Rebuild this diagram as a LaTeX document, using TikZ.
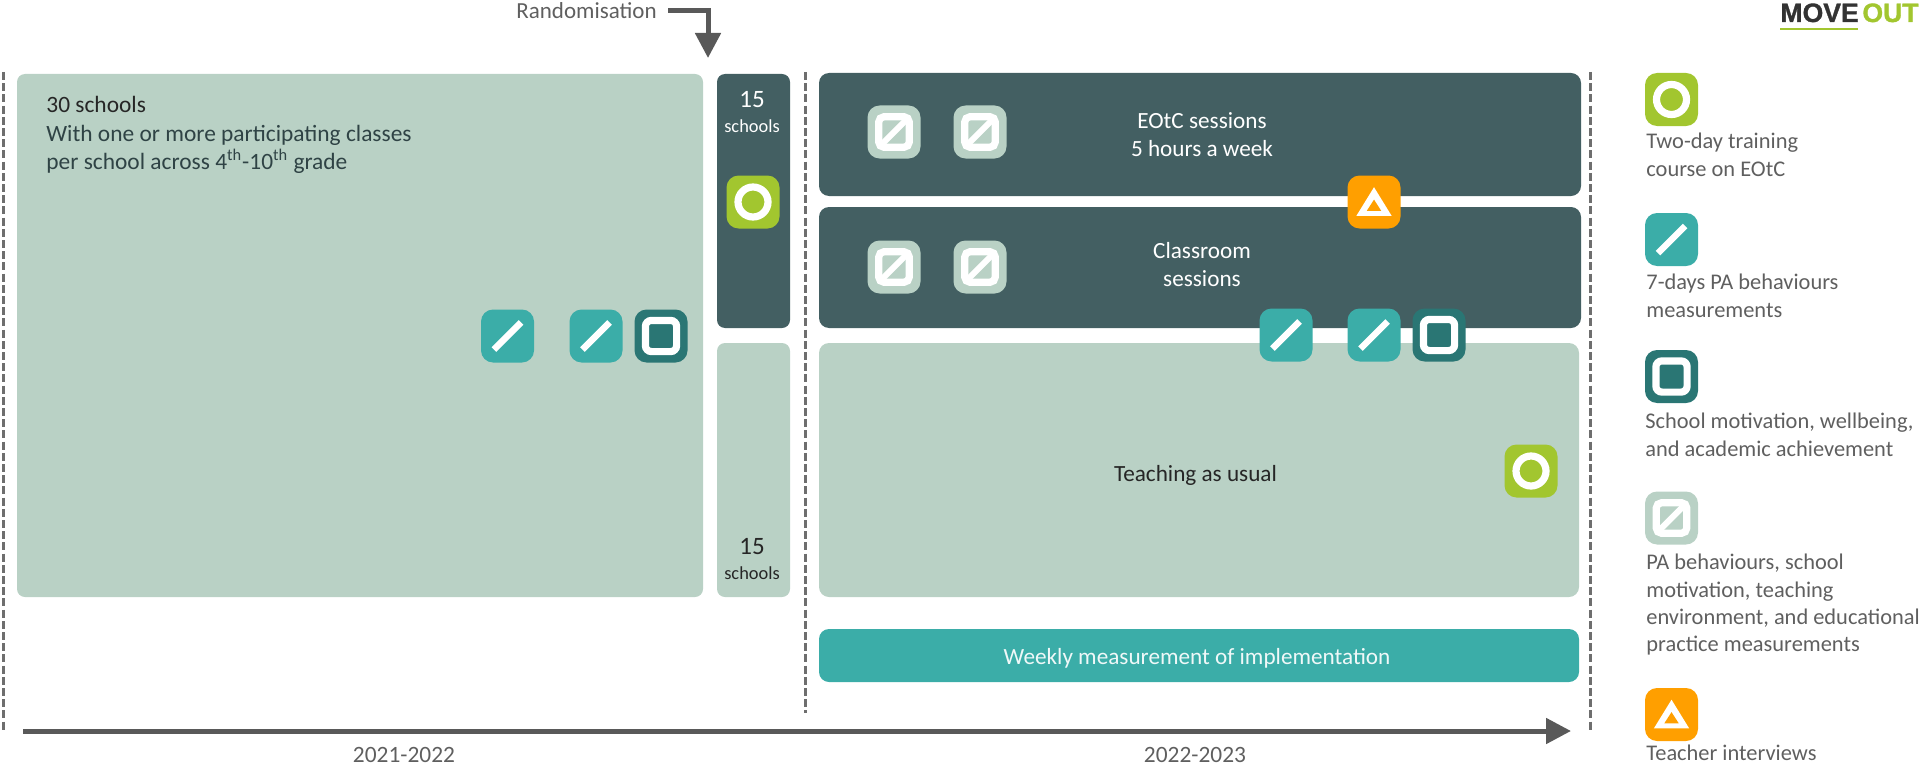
\documentclass[tikz,border=0pt]{standalone}
\usepackage{fontspec}
\usepackage{tikz}
\usetikzlibrary{arrows.meta}
\setmainfont{Carlito}
\newfontfamily\logofont[BoldFeatures={FakeBold=1.2}]{Liberation Sans}

\definecolor{panellight}{HTML}{B9D1C5}
\definecolor{paneldark}{HTML}{435F62}
\definecolor{teal}{HTML}{3BADA8}
\definecolor{darkteal}{HTML}{2A7674}
\definecolor{limegreen}{HTML}{A2C62F}
\definecolor{amber}{HTML}{FF9F00}
\definecolor{arrowgrey}{HTML}{595959}
\definecolor{dashgrey}{HTML}{6E6E6E}
\definecolor{labelgrey}{HTML}{5F5F5F}

\tikzset{
  panel/.style={rounded corners=5pt, inner sep=0pt, outer sep=0pt},
  paneltext/.style={inner sep=0pt, align=center, font=\fontsize{11.6}{14.1}\selectfont},
  icon/.style={rounded corners=6pt, minimum size=26.5pt, inner sep=0pt, outer sep=0pt},
  glyph/.style={draw=white, line width=3.6pt},
  flow/.style={draw=arrowgrey, line width=2.5pt, -{Triangle[width=12.5pt,length=12.5pt]}},
  divider/.style={draw=dashgrey, line width=1.5pt, dash pattern=on 4pt off 1.6pt},
  legend/.style={anchor=north west, inner sep=0pt, align=left, text=labelgrey,
    font=\fontsize{11.2}{13.6}\selectfont},
}

\begin{document}
\begin{tikzpicture}[x=0.5pt, y=-0.5pt]
\useasboundingbox (0,0) rectangle (1920,765);

% Year dividers
\foreach \name/\x/\ylow in {first/3/730, second/805/713, third/1590/732} {
    \coordinate (\name top) at (\x,72);
    \coordinate (\name low) at (\x,\ylow);
    \draw[divider] (\name top) -- (\name low);
}

% Baseline year
\node[panel, fill=panellight, rounded corners=4pt, minimum width=343pt, minimum height=261.5pt] (baseline) at (360,335.5) {};
\node[anchor=north west, inner sep=0pt, align=left, text=paneldark!70!black, font=\fontsize{11.7}{14.2}\selectfont] (baselinetext) at (46,96)
    {\textcolor{black!85}{30 schools}\\With one or more participating classes\\per school across 4\textsuperscript{th}-10\textsuperscript{th} grade};

% Randomised groups
\node[panel, fill=paneldark, rounded corners=4pt, minimum width=36.5pt, minimum height=127pt] (groupa) at (753.5,201) {};
\node[panel, fill=panellight, rounded corners=4pt, minimum width=36.5pt, minimum height=127pt] (groupb) at (753.5,470) {};
\node[text=white, inner sep=0pt, font=\fontsize{12.5}{14}\selectfont] (groupanum) at (752,100) {15};
\node[text=white, inner sep=0pt, font=\fontsize{9.2}{11}\selectfont] (groupaname) at (752,126) {schools};
\node[text=black!85, inner sep=0pt, font=\fontsize{12.5}{14}\selectfont] (groupbnum) at (752,547) {15};
\node[text=black!85, inner sep=0pt, font=\fontsize{9.2}{11}\selectfont] (groupbname) at (752,573) {schools};

% Intervention year
\node[panel, fill=paneldark, minimum width=381pt, minimum height=61.5pt] (eotc) at (1200,134.5) {};
\node[paneltext, text=white] (eotctext) at (1202,135) {EOtC sessions\\5 hours a week};
\node[panel, fill=paneldark, minimum width=381pt, minimum height=60.5pt] (classroom) at (1200,267.5) {};
\node[paneltext, text=white] (classroomtext) at (1202,264.5) {Classroom\\sessions};
\node[panel, fill=panellight, minimum width=380pt, minimum height=127pt] (usual) at (1199,470) {};
\node[paneltext, text=black!85] (usualtext) at (1195.5,475) {Teaching as usual};
\node[panel, fill=teal, minimum width=380pt, minimum height=26.5pt] (weekly) at (1199,655.5) {};
\node[paneltext, text=white!92!teal, font=\fontsize{11.6}{14}\selectfont] (weeklytext) at (1197,658) {Weekly measurement of implementation};

% Randomisation arrow
\node[anchor=west, inner xsep=5.5pt, inner ysep=0pt, text=labelgrey, font=\fontsize{11.5}{13}\selectfont] (randlabel) at (505,11) {Randomisation};
\coordinate (randtip) at (708,58);
\draw[flow] (randlabel.east) -| (randtip);

% Time axis
\coordinate (timestart) at (23,731);
\coordinate (timeend) at (1571,731);
\draw[flow] (timestart) -- (timeend);
\node[text=labelgrey, inner sep=0pt, font=\fontsize{11.7}{13}\selectfont] (yearone) at (404,754.5) {2021-2022};
\node[text=labelgrey, inner sep=0pt, font=\fontsize{11.7}{13}\selectfont] (yeartwo) at (1195,754.5) {2022-2023};

% Training icons
\foreach \name/\x/\y in {legtrain/1671.5/99.5, grouptrain/753/202, usualtrain/1531/471} {
    \node[icon, fill=limegreen] (\name) at (\x,\y) {};
    \draw[glyph] (\name.center) circle (7.5pt);
}

% Accelerometer icons
\foreach \name/\x/\y in {legpa/1671.5/239.5, basepaa/507.5/336, basepab/596/336, midpaa/1286/335, midpab/1374/335} {
    \node[icon, fill=teal] (\name) at (\x,\y) {};
    \draw[glyph, line width=3.2pt] ([shift={(-6.8pt,-6.8pt)}]\name.center) -- ([shift={(6.8pt,6.8pt)}]\name.center);
}

% Questionnaire icons
\foreach \name/\x/\y in {legschool/1671.5/376.5, baseschool/661/336, midschool/1439/335} {
    \node[icon, fill=darkteal] (\name) at (\x,\y) {};
    \draw[glyph, rounded corners=3pt] ([shift={(-7.8pt,-7.8pt)}]\name.center) rectangle ([shift={(7.8pt,7.8pt)}]\name.center);
}

% Combined measurement icons
\foreach \name/\x/\y in {legmix/1671.5/518, eotcmixa/894/132, eotcmixb/980/132, roommixa/894/267, roommixb/980/267} {
    \node[icon, fill=panellight] (\name) at (\x,\y) {};
    \draw[glyph, rounded corners=2.5pt] ([shift={(-7.6pt,-7.6pt)}]\name.center) rectangle ([shift={(7.6pt,7.6pt)}]\name.center);
    \draw[glyph, line width=3pt] ([shift={(-7.6pt,-7.6pt)}]\name.center) -- ([shift={(7.6pt,7.6pt)}]\name.center);
}

% Interview icons
\foreach \name/\x/\y in {leginterview/1671.5/714.5, midinterview/1374/202} {
    \node[icon, fill=amber] (\name) at (\x,\y) {};
    \fill[white] ([shift={(0pt,7.4pt)}]\name.center) -- ([shift={(8.8pt,-6.9pt)}]\name.center) -- ([shift={(-8.8pt,-6.9pt)}]\name.center) -- cycle;
    \fill[amber] ([shift={(0pt,1.2pt)}]\name.center) -- ([shift={(3.6pt,-4.4pt)}]\name.center) -- ([shift={(-3.6pt,-4.4pt)}]\name.center) -- cycle;
}

% Legend
\node[legend] (legtraintext) at (1646,133) {Two-day training\\course on EOtC};
\node[legend] (legpatext) at (1646,274) {7-days PA behaviours\\measurements};
\node[legend] (legschooltext) at (1645,413) {School motivation, wellbeing,\\and academic achievement};
\node[legend] (legmixtext) at (1646,554) {PA behaviours, school\\motivation, teaching\\environment, and educational\\practice measurements};
\node[legend] (leginterviewtext) at (1646,745) {Teacher interviews};

% Logo
\node[anchor=base west, inner sep=0pt, text=black!80, font=\logofont\bfseries\fontsize{13.3}{14}\selectfont] (logomove) at (1780,22) {MOVE};
\node[anchor=base west, inner sep=0pt, text=limegreen, font=\logofont\bfseries\fontsize{13.3}{14}\selectfont] (logoout) at (1862,22) {OUT};
\draw[limegreen, line width=1pt] (logomove.south west) ++(0,6) -- ++(78,0);

\end{tikzpicture}
\end{document}
